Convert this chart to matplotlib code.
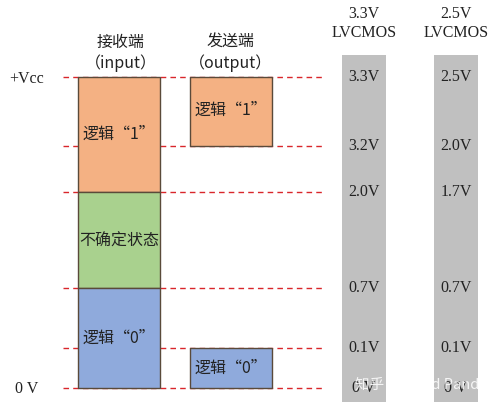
import matplotlib.pyplot as plt
from matplotlib.patches import Rectangle

plt.rcParams['font.family'] = ['Liberation Serif', 'Noto Sans CJK SC']

# 电平线位置（图中像素纵坐标）
level_names = ['Vcc', 'VOH', 'VIH', 'VIL', 'VOL', 'GND']
level_y = [77, 146, 192, 288, 348, 388]
v33 = ['3.3V', '3.2V', '2.0V', '0.7V', '0.1V', '0 V']
v25 = ['2.5V', '2.0V', '1.7V', '0.7V', '0.1V', '0 V']

# 区块：(列左边, 上电平, 下电平, 颜色, 文字, 文字纵坐标)
blocks = [
    (78, 0, 2, '#f4b183', '逻辑“1”', 134),
    (78, 2, 3, '#a9d18e', '不确定状态', 241),
    (78, 3, 5, '#8faadc', '逻辑“0”', 338),
    (190, 0, 1, '#f4b183', '逻辑“1”', 110),
    (190, 4, 5, '#8faadc', '逻辑“0”', 368),
]

fig = plt.figure(figsize=(5.01, 4.07), dpi=100)
ax = fig.add_axes([0, 0, 1, 1])
ax.set_xlim(0, 501)
ax.set_ylim(407, 0)
ax.axis('off')

cjk = ['Noto Sans CJK SC', 'Liberation Serif']
fs = 11.5
for y in level_y:
    ax.plot([63, 325], [y, y], ls=(0, (4, 3)), color='#d9262b', lw=1, zorder=1)

for x0, a, b, c, t, ty in blocks:
    y0, y1 = level_y[a], level_y[b]
    ax.add_patch(Rectangle((x0, y0), 82, y1 - y0, fc=c, ec='#5a4a3a', lw=1, zorder=2))
    ax.text(x0 + 41, ty, t, ha='center', va='center', fontsize=fs, family=cjk,
            color='#222222', zorder=3)

for xc, vals, name in [(364, v33, '3.3V'), (456, v25, '2.5V')]:
    ax.add_patch(Rectangle((xc - 22, 55), 44, 347, fc='#c0c0c0', ec='none', zorder=0))
    ax.text(xc, 14, name, ha='center', va='center', fontsize=fs, color='#222222')
    ax.text(xc, 33, 'LVCMOS', ha='center', va='center', fontsize=fs, color='#222222')
    for y, v in zip(level_y, vals):
        ax.text(xc, y, v, ha='center', va='center', fontsize=fs, color='#222222', zorder=3)

ax.text(121, 42, '接收端', ha='center', va='center', fontsize=fs, family=cjk, color='#222222')
ax.text(121, 63, '（input）', ha='center', va='center', fontsize=fs, family=cjk, color='#222222')
ax.text(231, 42, '发送端', ha='center', va='center', fontsize=fs, family=cjk, color='#222222')
ax.text(231, 63, '（output）', ha='center', va='center', fontsize=fs, family=cjk, color='#222222')
ax.text(9, 79, '+Vcc', ha='left', va='center', fontsize=fs, color='#222222')
ax.text(15, 389, '0 V', ha='left', va='center', fontsize=fs, color='#222222')
ax.text(421, 385, '知乎 @David Panda', ha='center', va='center', fontsize=10.5,
        family=['Noto Sans CJK SC', 'DejaVu Sans'], color='white', alpha=0.85, zorder=4)

fig.savefig('out.png', dpi=100)
